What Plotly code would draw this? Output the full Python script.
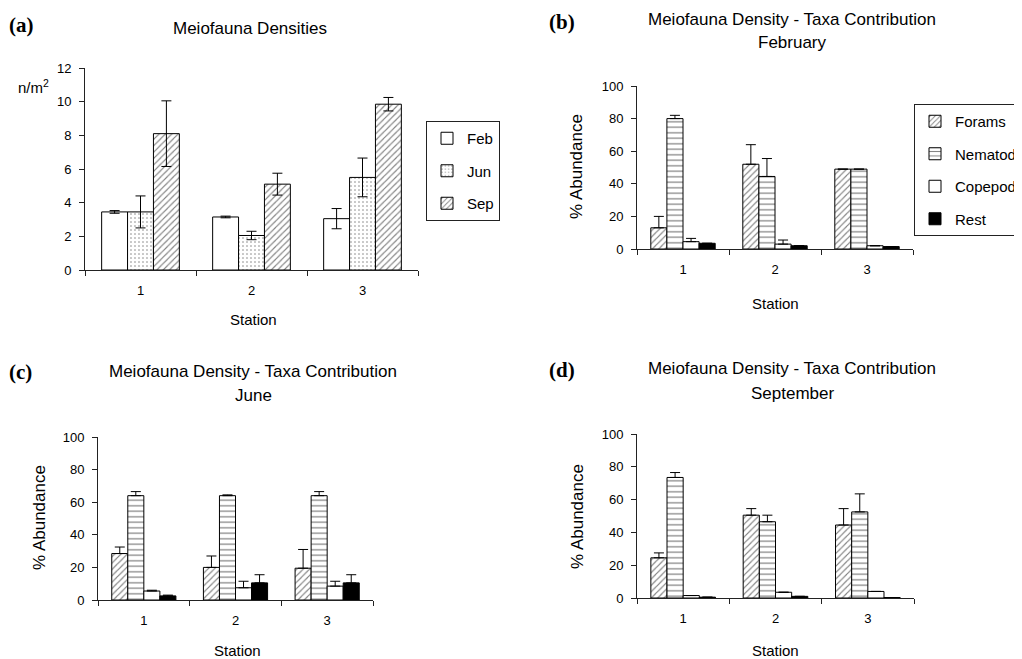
import plotly.graph_objects as go

# The page body adds an 8px margin; the figure fills the rest of the 1022x659 window.
OFF = 8
W, H = 1022 - OFF, 659 - OFF

# ---------------- data ----------------
stations = ["1", "2", "3"]

# (a) Meiofauna densities (n/m2)
feb_density = [3.45, 3.15, 3.05]
feb_density_err = [0.08, 0.05, 0.6]
jun_density = [3.45, 2.05, 5.5]
jun_density_err = [0.95, 0.25, 1.15]
sep_density = [8.1, 5.1, 9.85]
sep_density_err = [1.95, 0.65, 0.4]

taxa = ["Forams", "Nematods", "Copepods", "Rest"]

# (b) February % abundance
feb_forams = [13, 52, 49]
feb_forams_err = [7, 12, 0]
feb_nematods = [80, 44.5, 49]
feb_nematods_err = [2, 11, 0]
feb_copepods = [4.5, 3, 2]
feb_copepods_err = [2, 2.5, 0]
feb_rest = [3.5, 2, 1.5]
feb_rest_err = [0, 0, 0]

# (c) June % abundance
jun_forams = [28.5, 20, 19.5]
jun_forams_err = [4, 7, 11.5]
jun_nematods = [64, 64, 64]
jun_nematods_err = [2.5, 0.5, 2.5]
jun_copepods = [5.5, 7.5, 8.5]
jun_copepods_err = [0.5, 4, 3]
jun_rest = [2.5, 10.5, 10.5]
jun_rest_err = [0.5, 5, 5]

# (d) September % abundance
sep_forams = [24.5, 50.5, 44.5]
sep_forams_err = [3, 4, 10]
sep_nematods = [73.5, 46.5, 52.5]
sep_nematods_err = [3, 4, 11]
sep_copepods = [1.5, 3.5, 4]
sep_copepods_err = [0, 0, 0]
sep_rest = [0.5, 1, 0.3]
sep_rest_err = [0, 0, 0]

# ---------------- styles ----------------
FONT = "Liberation Sans, Arial, sans-serif"
SERIF = "Liberation Serif, Times New Roman, serif"
INK = "black"
pat_plain = dict(shape="", bgcolor="white")
pat_dots = dict(shape=".", fgcolor=INK, bgcolor="white", size=4, solidity=0.12)
pat_hatch = dict(shape="/", fgcolor=INK, bgcolor="white", size=4.5, solidity=0.25)
pat_lines = dict(shape="-", fgcolor=INK, bgcolor="white", size=5.5, solidity=0.22)

fig = go.Figure()

def add_bar(name, y, err, xa, ya, color, pattern, legend, showlegend, symmetric):
    ey = dict(type="data", array=err, color=INK, thickness=1, width=5, visible=True)
    if not symmetric:
        ey["symmetric"] = False
        ey["arrayminus"] = [0] * len(err)
    fig.add_trace(go.Bar(
        x=stations, y=y, name=name, xaxis=xa, yaxis=ya,
        marker=dict(color=color, pattern=pattern, line=dict(color=INK, width=1)),
        error_y=ey, legend=legend, showlegend=showlegend,
        legendgroup=legend + name,
    ))

# panel (a)
add_bar("Feb", feb_density, feb_density_err, "x", "y", "white", pat_plain, "legend", True, True)
add_bar("Jun", jun_density, jun_density_err, "x", "y", "white", pat_dots, "legend", True, True)
add_bar("Sep", sep_density, sep_density_err, "x", "y", "white", pat_hatch, "legend", True, True)

panels = [
    ("x2", "y2", [feb_forams, feb_nematods, feb_copepods, feb_rest],
     [feb_forams_err, feb_nematods_err, feb_copepods_err, feb_rest_err], True),
    ("x3", "y3", [jun_forams, jun_nematods, jun_copepods, jun_rest],
     [jun_forams_err, jun_nematods_err, jun_copepods_err, jun_rest_err], False),
    ("x4", "y4", [sep_forams, sep_nematods, sep_copepods, sep_rest],
     [sep_forams_err, sep_nematods_err, sep_copepods_err, sep_rest_err], False),
]
taxa_styles = [("white", pat_hatch), ("white", pat_lines), ("white", pat_plain), ("black", dict(shape=""))]
for xa, ya, vals, errs, show in panels:
    for name, v, e, (c, p) in zip(taxa, vals, errs, taxa_styles):
        add_bar(name, v, e, xa, ya, c, p, "legend2", show, False)

# pixel (window) -> figure fraction helpers
def px_x(px):
    return (px - OFF) / W

def px_y(py):
    return 1 - (py - OFF) / H

def xdom(a, b):
    return [px_x(a), px_x(b)]

def ydom(top, bottom):
    return [px_y(bottom), px_y(top)]

axis_common = dict(showline=True, linecolor="#222", linewidth=1, showgrid=False, zeroline=False,
                   ticks="outside", ticklen=5, tickcolor="#222", mirror=False,
                   tickfont=dict(family=FONT, size=13, color=INK))

xaxis_common = dict(axis_common, type="category", tickson="boundaries", ticklabelstandoff=8)
yaxis_common = dict(axis_common, ticklabelstandoff=5)

layout_axes = dict(
    xaxis=dict(xaxis_common, domain=xdom(85, 418), anchor="y"),
    yaxis=dict(yaxis_common, domain=ydom(68, 270), range=[0, 12], dtick=2, anchor="x"),
    xaxis2=dict(xaxis_common, domain=xdom(637, 913), anchor="y2"),
    yaxis2=dict(yaxis_common, domain=ydom(86, 249), range=[0, 100], dtick=20, anchor="x2"),
    xaxis3=dict(xaxis_common, domain=xdom(98, 373), anchor="y3"),
    yaxis3=dict(yaxis_common, domain=ydom(437, 600), range=[0, 100], dtick=20, anchor="x3"),
    xaxis4=dict(xaxis_common, domain=xdom(637, 914), anchor="y4"),
    yaxis4=dict(yaxis_common, domain=ydom(434, 598), range=[0, 100], dtick=20, anchor="x4"),
)

def ann(text, x, y, size=13, xanchor="center", textangle=0, family=FONT, bold=False):
    t = f"<b>{text}</b>" if bold else text
    return dict(text=t, x=px_x(x), y=px_y(y), xref="paper", yref="paper",
                xanchor=xanchor, yanchor="middle", showarrow=False, textangle=textangle,
                font=dict(family=family, size=size, color=INK))

annotations = [
    ann("(a)", 7, 25, size=21, xanchor="left", family=SERIF, bold=True),
    ann("(b)", 547, 22, size=21, xanchor="left", family=SERIF, bold=True),
    ann("(c)", 7, 372, size=21, xanchor="left", family=SERIF, bold=True),
    ann("(d)", 547, 370, size=21, xanchor="left", family=SERIF, bold=True),
    ann("Meiofauna Densities", 250, 28, size=17),
    ann("Meiofauna Density - Taxa Contribution", 792, 19, size=17),
    ann("February", 792, 43, size=17),
    ann("Meiofauna Density - Taxa Contribution", 253, 371, size=17),
    ann("June", 253, 395, size=17),
    ann("Meiofauna Density - Taxa Contribution", 792, 368, size=17),
    ann("September", 792, 393, size=17),
    ann("n/m<sup>2</sup>", 33, 86, size=15),
    ann("Station", 253, 320, size=15),
    ann("Station", 775, 303, size=15),
    ann("Station", 237, 650, size=15),
    ann("Station", 775, 650, size=15),
    ann("% Abundance", 577, 167, size=17, textangle=-90),
    ann("% Abundance", 39, 518, size=17, textangle=-90),
    ann("% Abundance", 577, 517, size=17, textangle=-90),
]

legend_common = dict(xref="container", yref="container", xanchor="left", yanchor="top",
                     bgcolor="white", bordercolor="#222", borderwidth=1,
                     font=dict(family=FONT, size=15, color=INK), tracegroupgap=10,
                     itemwidth=30)

fig.update_layout(
    width=W, height=H,
    margin=dict(l=0, r=0, t=0, b=0, autoexpand=False),
    paper_bgcolor="white", plot_bgcolor="white",
    barmode="group", bargap=0.3, bargroupgap=0,
    showlegend=True,
    legend=dict(legend_common, x=px_x(426), y=px_y(121)),
    legend2=dict(legend_common, x=px_x(914), y=px_y(104)),
    annotations=annotations,
    font=dict(family=FONT, color=INK),
    **layout_axes,
)

fig.write_html("out.html")
